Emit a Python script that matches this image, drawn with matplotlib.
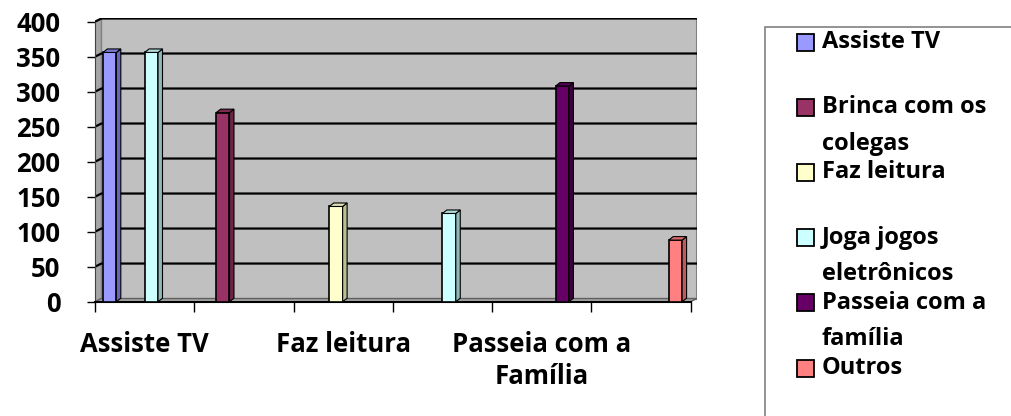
import matplotlib
matplotlib.use('Agg')
import matplotlib.pyplot as plt
from matplotlib.patches import Polygon, Rectangle

plt.rcParams['font.family'] = ['Open Sans', 'DejaVu Sans']
plt.rcParams['font.weight'] = 'bold'

# dados
categorias = ['Assiste TV', 'Brinca com os colegas', 'Faz leitura',
              'Joga jogos eletrônicos', 'Passeia com a Família', 'Outros']
rotulos_x = ['Assiste TV', 'Faz leitura', 'Passeia com a\nFamília']
pos_rotulos = [0, 2, 4]
series = ['Assiste TV', 'Brinca com os\ncolegas', 'Faz leitura',
          'Joga jogos\neletrônicos', 'Passeia com a\nfamília', 'Outros']
assiste = [356, 0, 0, 0, 0, 0]
brinca = [0, 270, 0, 0, 0, 0]
leitura = [0, 0, 136, 0, 0, 0]
jogos = [356, 0, 0, 126, 0, 0]
passeia = [0, 0, 0, 0, 308, 0]
outros = [0, 0, 0, 0, 0, 88]
valores = [assiste, brinca, leitura, jogos, passeia, outros]
y_ticks = [0, 50, 100, 150, 200, 250, 300, 350, 400]

cores = ['#9999FF', '#993366', '#FFFFCC', '#CCFFFF', '#660066', '#FF8080']
laterais = ['#6666B8', '#6B2347', '#BDBD96', '#8FB8B8', '#3F003F', '#BA5C5C']
topos = ['#7A7AD6', '#82294F', '#DEDEB0', '#AEDADA', '#520052', '#D96A6A']

W, H = 1012, 416
fig = plt.figure(figsize=(W / 100, H / 100), dpi=100)
ax = fig.add_axes([95 / W, (H - 301.7) / H, (697 - 95) / W, (301.7 - 18.5) / H])

n = len(categorias)
dxw, dyw = 0.065, 4.5   # profundidade das paredes
dxb, dyb = 0.045, 5.0   # profundidade das barras
ax.set_xlim(0, n + dxw)
ax.set_ylim(0, 400 + dyw)

# paredes 3D
ax.add_patch(Polygon([(dxw, dyw), (n + dxw, dyw), (n + dxw, 400 + dyw), (dxw, 400 + dyw)],
                     closed=True, facecolor='#C0C0C0', edgecolor='#808080', lw=1.5, zorder=0))
ax.add_patch(Polygon([(0, 0), (dxw, dyw), (dxw, 400 + dyw), (0, 400)],
                     closed=True, facecolor='#A6A6A6', edgecolor='#808080', lw=1, zorder=0))
ax.add_patch(Polygon([(0, 0), (n, 0), (n + dxw, dyw), (dxw, dyw)],
                     closed=True, facecolor='#A6A6A6', edgecolor='#606060', lw=1, zorder=0))
for v in y_ticks[1:]:
    ax.plot([0, dxw, n + dxw], [v, v + dyw, v + dyw], color='black', lw=1.6, zorder=1)

# barras
largura = 0.135
for i, vals in enumerate(valores):
    for c, v in enumerate(vals):
        if v == 0:
            continue
        x0 = c + 0.08 + i * 0.14
        ax.bar(x0, v, width=largura, align='edge', color=cores[i],
               edgecolor='black', linewidth=1.2, zorder=3)
        x1 = x0 + largura
        ax.add_patch(Polygon([(x1, 0), (x1 + dxb, dyb), (x1 + dxb, v + dyb), (x1, v)],
                             closed=True, facecolor=laterais[i], edgecolor='black', lw=0.8, zorder=3))
        ax.add_patch(Polygon([(x0, v), (x0 + dxb, v + dyb), (x1 + dxb, v + dyb), (x1, v)],
                             closed=True, facecolor=topos[i], edgecolor='black', lw=0.8, zorder=3))

ax.set_facecolor('white')
for s in ['top', 'right']:
    ax.spines[s].set_visible(False)
ax.spines['left'].set_bounds(0, 400)
ax.spines['bottom'].set_bounds(0, n)
ax.spines['left'].set_color('#404040')
ax.spines['bottom'].set_color('black')
ax.spines['bottom'].set_linewidth(1.5)

ax.set_yticks(y_ticks)
ax.set_yticklabels([str(t) for t in y_ticks], fontsize=18.5, fontweight='bold')
ax.tick_params(axis='y', length=6, width=1, pad=19, colors='black')
ax.set_xticks(range(n + 1))
ax.set_xticklabels([''] * (n + 1))
ax.tick_params(axis='x', which='major', length=7, width=1)
ax.set_xticks([p + 0.5 for p in pos_rotulos], minor=True)
ax.set_xticklabels(rotulos_x, minor=True, fontsize=18.5, fontweight='bold', linespacing=1.25)
ax.tick_params(axis='x', which='minor', length=0, pad=21)

# legenda
fig.patches.append(Rectangle((765 / W, -0.2), 0.4, 1.2 - 27 / H, transform=fig.transFigure,
                             facecolor='none', edgecolor='#808080', lw=1.2))
for i, nome in enumerate(series):
    yc = 42 + i * 65.2
    fig.patches.append(Rectangle((797 / W, (H - yc - 8.5) / H), 17 / W, 17 / H,
                                 transform=fig.transFigure, facecolor=cores[i],
                                 edgecolor='black', lw=1.3))
    for k, linha in enumerate(nome.split('\n')):
        fig.text(822 / W, (H - yc - k * 36.5) / H, linha, fontsize=17,
                 fontweight='bold', va='center', ha='left')

fig.savefig('out.png', dpi=100)
